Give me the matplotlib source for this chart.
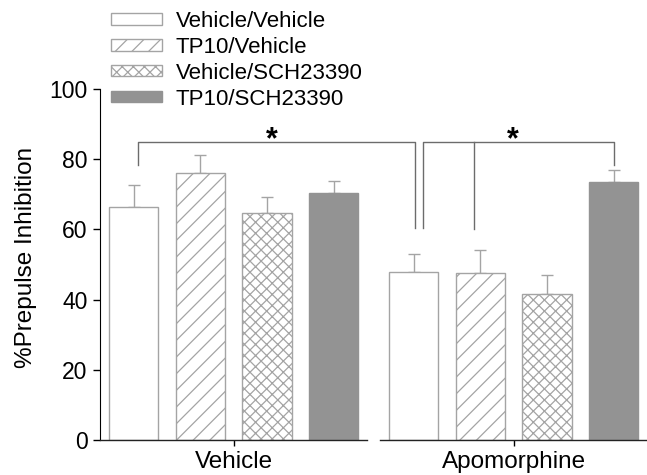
import numpy as np
import matplotlib

matplotlib.use("Agg")
import matplotlib.pyplot as plt
from matplotlib.patches import Patch

plt.rcParams["font.family"] = ["Liberation Sans", "DejaVu Sans"]
plt.rcParams["hatch.linewidth"] = 0.9

# data
groups = ["Vehicle", "Apomorphine"]
treatments = ["Vehicle/Vehicle", "TP10/Vehicle", "Vehicle/SCH23390", "TP10/SCH23390"]
ppi_vehicle = [66.4, 76.2, 64.7, 70.4]
ppi_apo = [47.8, 47.5, 41.5, 73.6]
sem_vehicle = [6.3, 4.9, 4.5, 3.4]
sem_apo = [5.2, 6.5, 5.5, 3.2]

# significance brackets (x positions in bar-pitch units, heights in %PPI)
bracket_top = 85.0
bracket_left_x = [-1.43, 2.72]
bracket_left_y = [78.4, 60.3]
bracket_right_x = [2.84, 3.6, 5.7]
bracket_right_y = [60.3, 60.0, 78.4]

GRAY = "#a4a4a4"
DARK = "#6c6c6c"
styles = [
    dict(facecolor="white", edgecolor=GRAY, hatch=None),
    dict(facecolor="white", edgecolor=GRAY, hatch="//"),
    dict(facecolor="white", edgecolor=GRAY, hatch="xxx"),
    dict(facecolor="#939393", edgecolor="#939393", hatch=None),
]

fig = plt.figure(figsize=(6.47, 4.75), dpi=100)
ax = fig.add_axes([100 / 647, 1 - 440 / 475, 547 / 647, 351 / 475])

group_x = np.array([0.0, 4.2])
offsets = np.array([-1.5, -0.5, 0.5, 1.5])
width = 0.74
means = [ppi_vehicle, ppi_apo]
sems = [sem_vehicle, sem_apo]

for i in range(len(treatments)):
    xs = group_x + offsets[i]
    ys = [means[0][i], means[1][i]]
    es = [sems[0][i], sems[1][i]]
    ax.bar(xs, ys, width=width, linewidth=1.0, zorder=2, **styles[i])
    ax.errorbar(xs, ys, yerr=[[0, 0], es], fmt="none", ecolor=GRAY,
                elinewidth=1.0, capsize=4, capthick=1.0, zorder=1)

# brackets
ax.plot([bracket_left_x[0], bracket_left_x[0], bracket_left_x[1], bracket_left_x[1]],
        [bracket_left_y[0], bracket_top, bracket_top, bracket_left_y[1]],
        color=DARK, lw=1.0, clip_on=False)
ax.plot([bracket_right_x[0], bracket_right_x[0], bracket_right_x[2], bracket_right_x[2]],
        [bracket_right_y[0], bracket_top, bracket_top, bracket_right_y[2]],
        color=DARK, lw=1.0, clip_on=False)
ax.plot([bracket_right_x[1], bracket_right_x[1]], [bracket_top, bracket_right_y[1]],
        color=DARK, lw=1.0, clip_on=False)
ax.text(0.57, 83.2, "*", ha="center", va="baseline", fontsize=22, fontweight="bold")
ax.text(4.19, 83.2, "*", ha="center", va="baseline", fontsize=22, fontweight="bold")

ax.set_xlim(-2.007, 6.198)
ax.set_ylim(0, 100)

# broken x axis
ax.spines[["top", "right", "bottom"]].set_visible(False)
ax.spines["left"].set_bounds(0, 100)
ax.plot([-2.007, 2.0], [0, 0], color="#222222", lw=1.0, clip_on=False, zorder=3)
ax.plot([2.19, 6.198], [0, 0], color="#222222", lw=1.0, clip_on=False, zorder=3)

ax.set_yticks([0, 20, 40, 60, 80, 100])
ax.set_xticks(group_x)
ax.set_xticklabels(groups)
ax.tick_params(axis="y", direction="out", length=5, width=1.0, labelsize=16.5, pad=4)
ax.tick_params(axis="x", direction="out", length=4, width=1.0, labelsize=17.5, pad=4)
ax.set_ylabel("%Prepulse Inhibition", fontsize=17.5)
ax.yaxis.set_label_coords(-0.115, 0.52)

handles = [Patch(linewidth=1.0, **s) for s in styles]
fig.legend(handles, treatments, loc="upper left",
           bbox_to_anchor=(111 / 647, 1 - 11 / 475), frameon=False,
           fontsize=16, handlelength=2.3, handleheight=0.4,
           handletextpad=0.6, labelspacing=0.22, borderpad=0, borderaxespad=0)

fig.savefig("out.png", dpi=100)
